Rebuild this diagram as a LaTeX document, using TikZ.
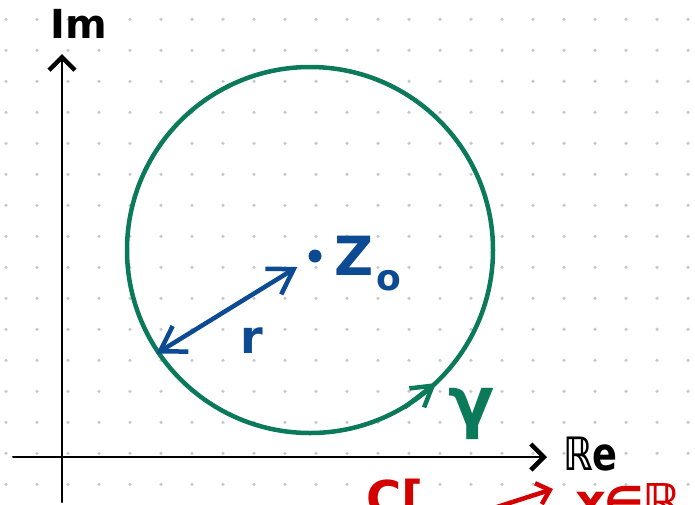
\documentclass[tikz,border=0pt]{standalone}
\usepackage{fontspec}
\setmainfont{DejaVu Sans}
\usetikzlibrary{arrows.meta}
\definecolor{gr}{HTML}{0B7A5A}
\definecolor{bl}{HTML}{0C4A93}
\definecolor{rd}{HTML}{D40000}
\definecolor{dotc}{HTML}{C8C8C8}
\tikzset{
  axisline/.style={line width=2pt, black, -{Straight Barb[length=13pt,width=26pt,line width=4.5pt]}},
  pen/.style={line width=4.5pt},
  radarrow/.style={bl, line width=4.5pt, {Straight Barb[length=24pt,width=30pt,line width=4.5pt]}-{Straight Barb[length=24pt,width=30pt,line width=4.5pt]}},
  lab/.style={inner sep=0pt, anchor=base west, font=\fontsize{#1}{#1}\selectfont\bfseries},
}
\begin{document}
\begin{tikzpicture}[x=1pt,y=-1pt,line cap=round,line join=round]
\useasboundingbox (0,0) rectangle (695,504);
\fill[white] (0,0) rectangle (695,504);
\foreach \i in {0,...,22}{\foreach \j in {0,...,15}{\fill[dotc] (6+31*\i,19.3+31*\j) circle (1.8pt);}}
% axes
\coordinate (yb) at (62,502); \coordinate (yt) at (62,54);
\coordinate (xl) at (13,457); \coordinate (xr) at (547,457);
\draw[axisline] (yb) -- (yt);
\draw[axisline] (xl) -- (xr);
\node[lab=40] (im) at (50,38) {Im};
\node[lab=46, xscale=0.8] (re) at (563,470) {ℝe};
% circle
\node[draw=gr, pen, circle, minimum size=366pt, inner sep=0pt] (C) at (310,250) {};
\coordinate (gs) at (405,407);
\coordinate (gtip) at (436,383);
\draw[gr, pen, -{Straight Barb[length=20pt,width=24pt,line width=4.5pt]}] (gs) -- (gtip);
\node[lab=68, text=gr] (gamma) at (448,425) {γ};
% centre and radius
\node[circle, fill=bl, minimum size=13pt, inner sep=0pt] (z0) at (315,256) {};
\node[lab=54, text=bl] (Z) at (334,275) {Z};
\node[lab=36, text=bl] (o) at (376,290) {o};
\draw[radarrow, shorten >=14pt] (C.214) -- (z0);
\node[lab=46, text=bl] (r) at (240,353) {r};
% red text (cut off at the bottom)
\node[lab=48, text=rd] (rl) at (366,515) {C[};
\coordinate (ra) at (497,507); \coordinate (rb) at (553,489);
\draw[rd, pen, -{Straight Barb[length=12pt,width=22pt,line width=4.5pt]}] (ra) -- (rb);
\node[lab=48, text=rd] (rx) at (575,518) {x};
\node[lab=44, text=rd] (rin) at (604,518) {∈};
\node[lab=48, text=rd] (rR) at (642,518) {ℝ};
\end{tikzpicture}
\end{document}
